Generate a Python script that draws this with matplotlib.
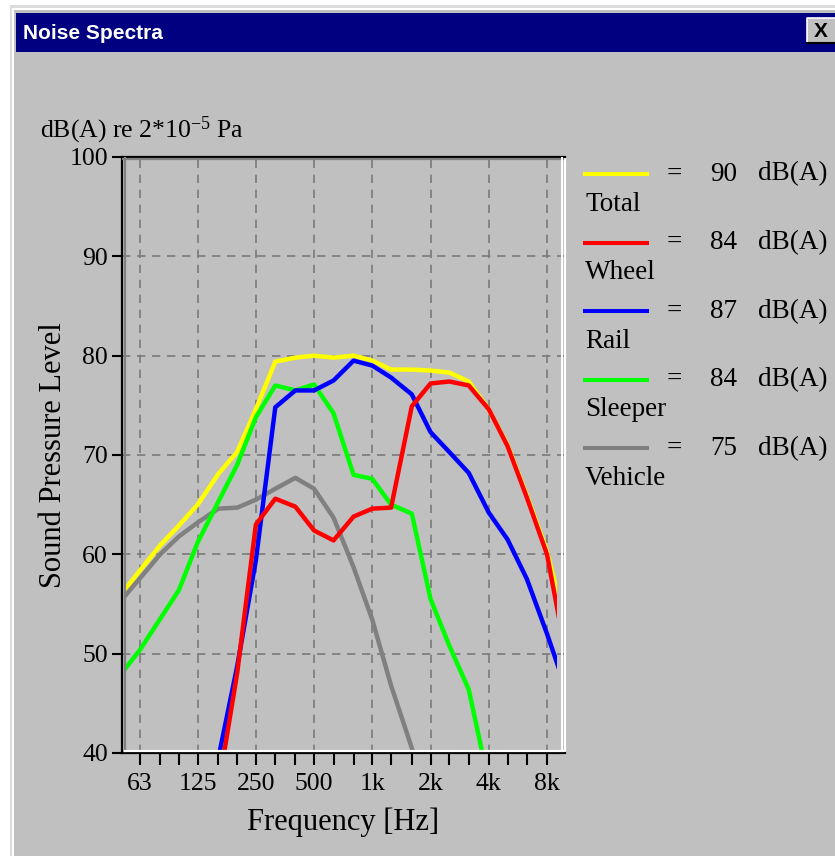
"""Noise spectra of a track section: total, wheel, rail, sleeper and
vehicle contributions per third-octave band, drawn as an old dialog box.
"""
import numpy as np
import matplotlib
matplotlib.use("Agg")
import matplotlib.pyplot as plt
from matplotlib.patches import Rectangle

# plot setup:
plt.rcParams["font.family"] = ["Liberation Serif", "DejaVu Serif"]
plt.rcParams["mathtext.default"] = "regular"

# -------------------------------------------------------
# Data (third-octave bands, dB(A)).
# -------------------------------------------------------
nan = np.nan
freqs = [50, 63, 80, 100, 125, 160, 200, 250, 315, 400, 500, 630,
         800, 1000, 1250, 1600, 2000, 2500, 3150, 4000, 5000, 6300, 8000, 10000]
total = [55.9, 58.4, 60.9, 62.9, 65.0, 68.1, 70.3, 74.6, 79.4, 79.8, 80.0, 79.8,
         80.0, 79.5, 78.6, 78.6, 78.5, 78.3, 77.4, 74.6, 71.0, 65.9, 60.3, 52.8]
wheel = [nan, nan, nan, nan, nan, 36.5, 48.0, 63.0, 65.6, 64.8, 62.4, 61.4,
         63.8, 64.6, 64.7, 74.9, 77.2, 77.4, 77.0, 74.6, 70.9, 65.7, 60.0, 50.0]
rail = [nan, nan, nan, nan, nan, 39.5, 48.7, 59.4, 74.8, 76.5, 76.5, 77.5,
        79.5, 79.0, 77.8, 76.1, 72.3, 70.3, 68.2, 64.2, 61.5, 57.5, 52.0, 46.5]
sleeper = [47.9, 50.4, 53.5, 56.4, 61.2, 65.3, 69.0, 73.8, 77.0, 76.5, 77.1, 74.2,
           68.0, 67.6, 65.0, 64.1, 55.5, 50.8, 46.4, 37.0, nan, nan, nan, nan]
vehicle = [55.3, 57.6, 60.0, 61.8, 63.2, 64.6, 64.7, 65.5, 66.6, 67.7, 66.6, 63.7,
           58.7, 53.4, 46.8, 40.5, 34.0, nan, nan, nan, nan, nan, nan, nan]

names = ["Total", "Wheel", "Rail", "Sleeper", "Vehicle"]
levels = [90, 84, 87, 84, 75]
octave_labels = ["63", "125", "250", "500", "1k", "2k", "4k", "8k"]
octave_freqs = [63, 125, 250, 500, 1000, 2000, 4000, 8000]

# define plot styles:
local_styles = {
    "Total": "#ffff00",
    "Wheel": "#ff0000",
    "Rail": "#0000ff",
    "Sleeper": "#00ff00",
    "Vehicle": "#808080",
    }
series = {
    "Total": total,
    "Wheel": wheel,
    "Rail": rail,
    "Sleeper": sleeper,
    "Vehicle": vehicle,
    }

# -------------------------------------------------------
# Plot.
# -------------------------------------------------------
W, H = 835, 856
win_gray = "#c0c0c0"
fig = plt.figure(figsize=(W/100, H/100), dpi=100)
fig.patch.set_facecolor(win_gray)

# plot axes placed on the dialog in pixels:
ax = fig.add_axes([122/W, 1-753/H, 443/W, 596/H])
ax.set_facecolor(win_gray)
ax.set_xscale("log", base=2)
ax.set_xlim(50.8, 9910)
ax.set_ylim(40, 100)

# grid:
for f in octave_freqs:
    ax.axvline(f, color="#7a7a7a", lw=1.2, linestyle=(0, (5, 4)), zorder=1)
for v in range(50, 100, 10):
    ax.axhline(v, color="#7a7a7a", lw=1.2, linestyle=(0, (5, 4)), zorder=1)

# curves, clipped to the inner area of the sunken frame:
clip = Rectangle((4/443, 3/596), 431/443, 590/596,
                 transform=ax.transAxes, fc="none", ec="none")
for name in ["Total", "Vehicle", "Sleeper", "Rail", "Wheel"]:
    line, = ax.plot(freqs, series[name], color=local_styles[name],
                    lw=3.2, zorder=3, solid_joinstyle="round")
    line.set_clip_path(clip)

# ticks:
third_octaves = freqs[1:-1]
ax.set_xticks(third_octaves)
ax.set_xticklabels([octave_labels[octave_freqs.index(f)] if f in octave_freqs
                    else "" for f in third_octaves])
ax.xaxis.set_minor_locator(matplotlib.ticker.NullLocator())
ax.set_yticks(range(40, 101, 10))
ax.tick_params(axis="x", direction="out", length=8.5, width=1.5,
               pad=6.0, labelsize=18.5, colors="black")
ax.tick_params(axis="y", direction="out", length=7.2, width=1.5,
               pad=3.0, labelsize=18.5, colors="black")

for side in ["left", "top", "bottom"]:
    ax.spines[side].set_color("black")
    ax.spines[side].set_linewidth(1.6)
ax.spines["right"].set_color("white")
ax.spines["right"].set_linewidth(1.6)

ax.set_xlabel("Frequency [Hz]", fontsize=22, labelpad=9)
ax.set_ylabel("Sound Pressure Level", fontsize=22, labelpad=1)

# -------------------------------------------------------
# Dialog decoration and legend, in pixel coordinates.
# -------------------------------------------------------
deco = fig.add_axes([0, 0, 1, 1], zorder=5)
deco.set_xlim(0, W)
deco.set_ylim(H, 0)
deco.axis("off")
deco.patch.set_alpha(0)

# window border:
deco.add_patch(Rectangle((0, 0), W, 5, fc="white", ec="none"))
deco.add_patch(Rectangle((0, 0), 10, H, fc="white", ec="none"))
deco.add_patch(Rectangle((10, 5), W, 3, fc="#dcdcdc", ec="none"))
deco.add_patch(Rectangle((10, 5), 2, H, fc="#dcdcdc", ec="none"))
deco.add_patch(Rectangle((12, 8), W, 2, fc="white", ec="none"))
deco.add_patch(Rectangle((12, 8), 1.5, H, fc="white", ec="none"))

# title bar:
deco.add_patch(Rectangle((16, 13), W, 39, fc="#000080", ec="none"))
deco.text(23, 33, "Noise Spectra", color="white", fontsize=15,
          fontweight="bold", family=["Liberation Sans", "DejaVu Sans"],
          ha="left", va="center")
deco.add_patch(Rectangle((807, 18), 30, 25, fc=win_gray, ec="none"))
deco.plot([807, 807, 837], [43, 18, 18], color="white", lw=1.2)
deco.plot([807, 837], [43, 43], color="black", lw=1.5)
deco.text(821, 31, "X", color="black", fontsize=15, fontweight="bold",
          family=["Liberation Sans", "DejaVu Sans"], ha="center", va="center")

# sunken frame inner stripes:
deco.plot([124.5, 124.5], [158, 751], color="#808080", lw=1.6)
deco.plot([123, 563], [159, 159], color="#808080", lw=1.6)
deco.plot([125, 563], [750.5, 750.5], color="white", lw=1.6)
deco.plot([562, 562], [158, 751], color="white", lw=1.4)

# unit note above the axes:
deco.text(40, 130, "dB(A) re 2*10$^{-5}$ Pa", fontsize=18.5,
          ha="left", va="center")

# legend:
for i, name in enumerate(names):
    y = 174 + i*68.6
    deco.plot([583, 649], [y, y], color=local_styles[name], lw=2.9,
              solid_capstyle="butt")
    deco.text(674, y, "=", fontsize=19.5, ha="center", va="center")
    deco.text(710, y, "%d" % levels[i], fontsize=19.5, ha="left", va="center")
    deco.text(758, y, "dB(A)", fontsize=19.5, ha="left", va="center")
    deco.text(585, y + 30, name, fontsize=19.5, ha="left", va="center")

fig.savefig("out.png", dpi=100, facecolor=fig.get_facecolor())
plt.close()
